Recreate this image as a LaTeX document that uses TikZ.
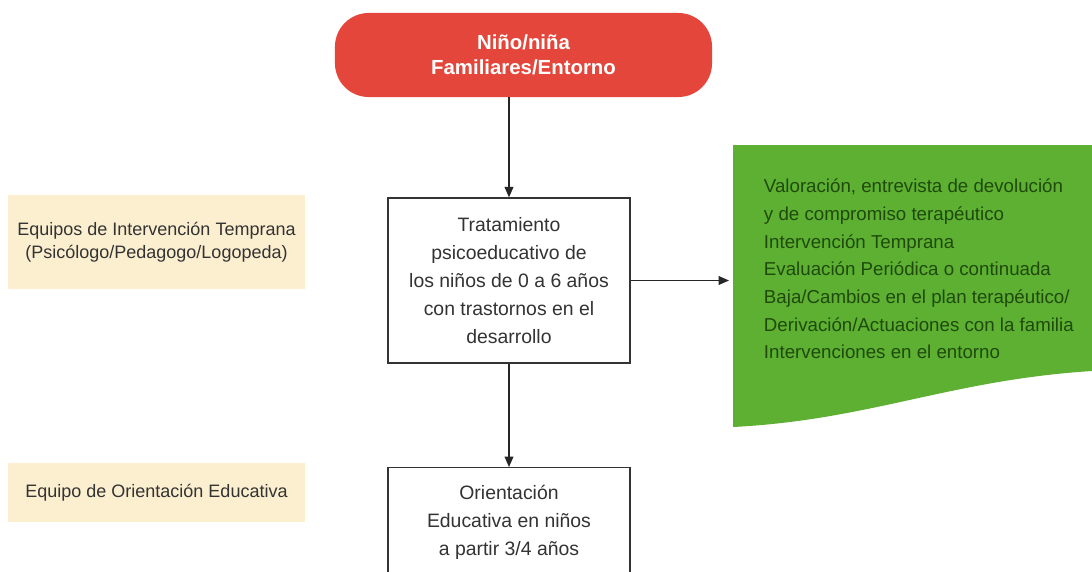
\documentclass[tikz,border=0pt]{standalone}
\usepackage{fontspec}
\setmainfont{Liberation Sans}
\usepackage{xcolor}
\usetikzlibrary{arrows.meta, positioning}

\definecolor{famred}{HTML}{E5463B}
\definecolor{teambeige}{HTML}{FCEFD0}
\definecolor{plangreen}{HTML}{5DB031}
\definecolor{plantext}{HTML}{1F4A0C}

\begin{document}
\begin{tikzpicture}[
        x=0.025cm, y=-0.025cm,
        start/.style={rectangle, rounded corners=24pt, fill=famred, minimum width=9.425cm, minimum height=2.1cm, align=center, text=white, font=\fontsize{14.5}{17.8}\selectfont\bfseries},
        box/.style={rectangle, draw=black!80, line width=0.9pt, fill=white, minimum width=6.05cm, align=center, text=black!80, font=\fontsize{13.8}{20}\selectfont},
        team/.style={rectangle, fill=teambeige, minimum width=7.425cm, align=center, text=black!80, font=\fontsize{12.8}{16.5}\selectfont},
        plan/.style={align=left, text=plantext, font=\fontsize{13.3}{19.7}\selectfont},
        arr/.style={-{Triangle[length=2.6mm, width=2.2mm]}, line width=0.8pt, black!85},
    ]
        \clip (0,0) rectangle (1092,572);
        \fill[white] (0,0) rectangle (1092,572);

        \node[start] (fam) at (523.5,55) {Niño/niña\\Familiares/Entorno};
        \node[box, minimum height=4.125cm] (trat) at (509,280.5) {Tratamiento\\psicoeducativo de\\los niños de 0 a 6 años\\con trastornos en el\\desarrollo};
        \node[box, minimum height=2.75cm, anchor=north] (orient) at (509,467) {Orientación\\Educativa en niños\\a partir 3/4 años};
        \node[team, minimum height=2.325cm] (eit) at (156.5,242) {Equipos de Intervención Temprana\\(Psicólogo/Pedagogo/Logopeda)};
        \node[team, minimum height=1.475cm] (eoe) at (156.5,492.5) {Equipo de Orientación Educativa};

        \fill[plangreen] (733,145) -- (1092,145) -- (1092,371) .. controls (950,380) and (870,420) .. (733,427) -- cycle;
        \node[plan, anchor=north west] (plan) at (759,174) {Valoración, entrevista de devolución\\y de compromiso terapéutico\\Intervención Temprana\\Evaluación Periódica o continuada\\Baja/Cambios en el plan terapéutico/\\Derivación/Actuaciones con la familia\\Intervenciones en el entorno};
        \coordinate (doc) at (729,280.5);

        \draw[arr] (fam.south -| trat.north) -- (trat.north);
        \draw[arr] (trat.east) -- (doc);
        \draw[arr] (trat.south) -- (orient.north);
    \end{tikzpicture}
\end{document}
